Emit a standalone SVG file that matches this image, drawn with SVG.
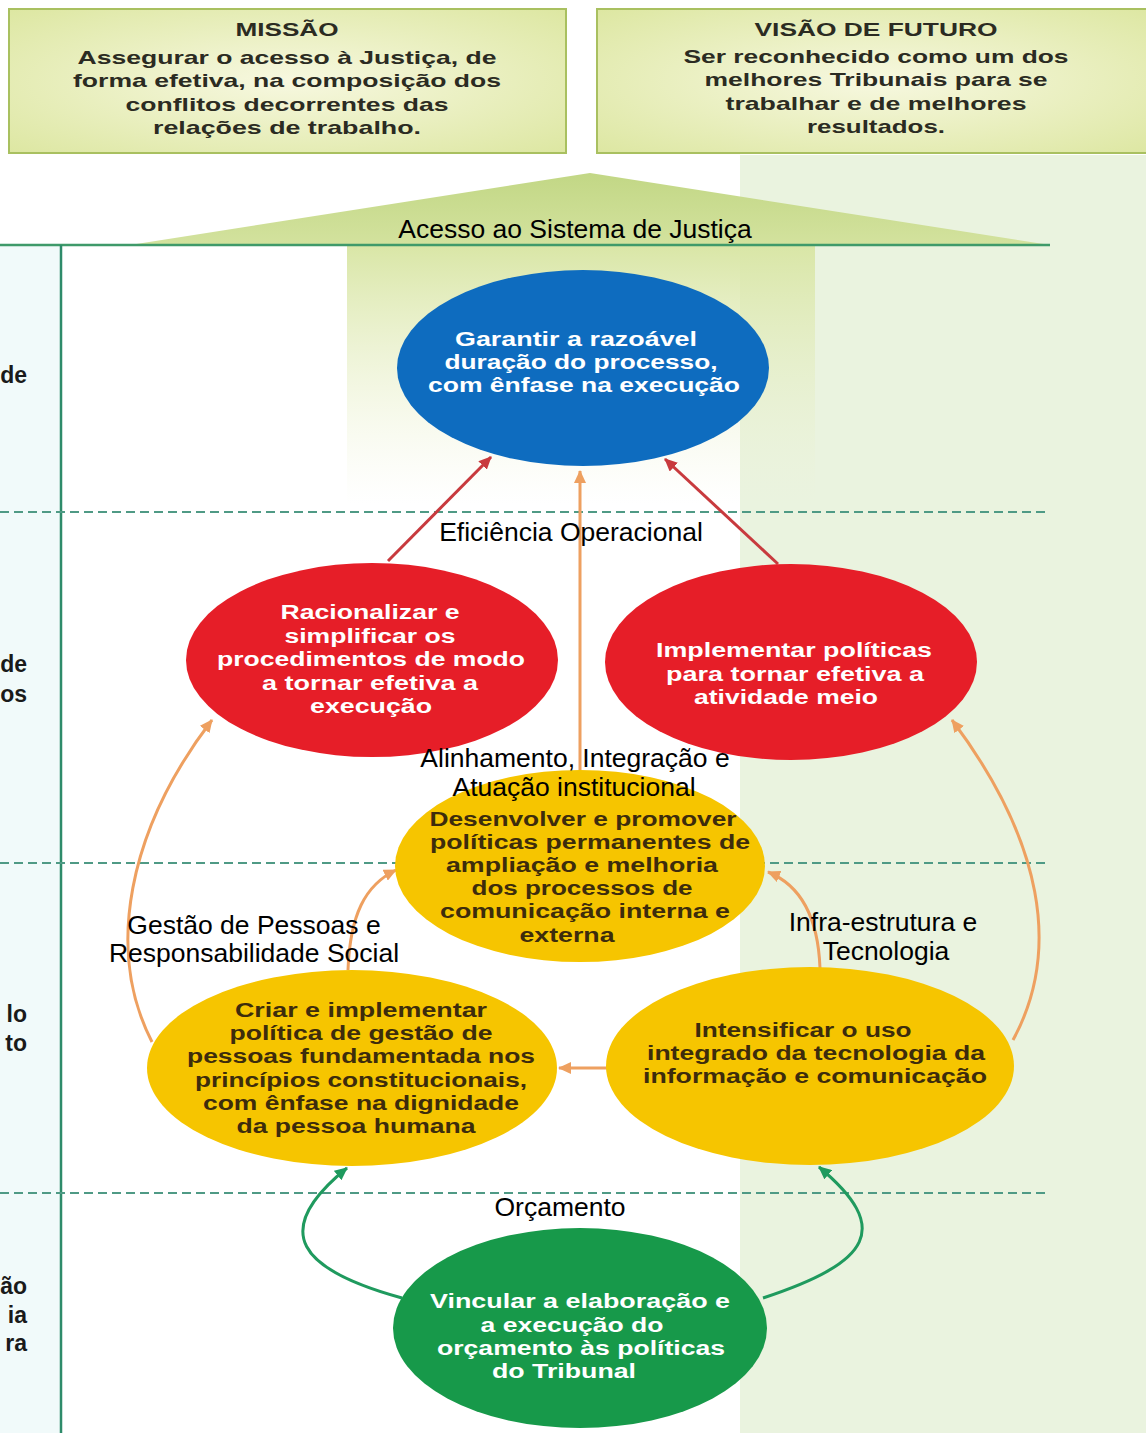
<svg xmlns="http://www.w3.org/2000/svg" width="1146" height="1433" viewBox="0 0 1146 1433">
<defs>
<style>
.bt{font-family:"Liberation Sans",Arial,sans-serif;font-weight:bold;font-size:19px;fill:#2b2b22;text-anchor:middle}
.wt{font-family:"Liberation Sans",Arial,sans-serif;font-weight:bold;font-size:20px;fill:#ffffff;text-anchor:middle}
.dt{font-family:"Liberation Sans",Arial,sans-serif;font-weight:bold;font-size:20px;fill:#3d2c0c;text-anchor:middle}
.lbl{font-family:"Liberation Sans",Arial,sans-serif;font-size:26.5px;fill:#000000;text-anchor:middle}
.side{font-family:"Liberation Sans",Arial,sans-serif;font-weight:bold;font-size:23px;fill:#1a1a1a;text-anchor:end}
.dash{stroke:#4f9a85;stroke-width:1.8;stroke-dasharray:9 5;fill:none}
.red{stroke:#c83a3e;stroke-width:3;fill:none}
.org{stroke:#eea060;stroke-width:3;fill:none}
.grn{stroke:#1f9a5e;stroke-width:3;fill:none}
.box{stroke:#a9c060;stroke-width:2}
</style>
<radialGradient id="boxg" cx="0.5" cy="0.5" r="0.7">
<stop offset="0" stop-color="#f7f8e0"/>
<stop offset="1" stop-color="#dde7a2"/>
</radialGradient>
<linearGradient id="colg" x1="0" y1="0" x2="0" y2="1">
<stop offset="0" stop-color="#d9e6a6" stop-opacity="1"/>
<stop offset="1" stop-color="#eef3d6" stop-opacity="0"/>
</linearGradient>
<linearGradient id="roofg" x1="0" y1="0" x2="0" y2="1">
<stop offset="0" stop-color="#c2d785"/>
<stop offset="1" stop-color="#d3e29e"/>
</linearGradient>
<marker id="ar" markerUnits="userSpaceOnUse" markerWidth="14" markerHeight="12" refX="12" refY="6" orient="auto"><path d="M0,0 L13,6 L0,12 z" fill="#c83a3e"/></marker>
<marker id="ao" markerUnits="userSpaceOnUse" markerWidth="14" markerHeight="12" refX="12" refY="6" orient="auto"><path d="M0,0 L13,6 L0,12 z" fill="#eea060"/></marker>
<marker id="ag" markerUnits="userSpaceOnUse" markerWidth="14" markerHeight="12" refX="12" refY="6" orient="auto"><path d="M0,0 L13,6 L0,12 z" fill="#1f9a5e"/></marker>
</defs>

<!-- background -->
<rect x="0" y="0" width="1146" height="1433" fill="#ffffff"/>
<rect x="0" y="245" width="60" height="1188" fill="#f1fafa"/>
<rect x="740" y="155" width="406" height="1278" fill="#eaf3df"/>
<rect x="347" y="245" width="468" height="260" fill="url(#colg)"/>

<!-- roof -->
<polygon points="590,173 130,245 1050,245" fill="url(#roofg)"/>
<line x1="0" y1="245" x2="1050" y2="245" stroke="#3f9a6a" stroke-width="2.5"/>
<line x1="61" y1="245" x2="61" y2="1433" stroke="#2e8b6a" stroke-width="2.5"/>

<!-- dashed separators -->
<line class="dash" x1="0" y1="512" x2="1045" y2="512"/>
<line class="dash" x1="0" y1="863" x2="1045" y2="863"/>
<line class="dash" x1="0" y1="1193" x2="1045" y2="1193"/>

<!-- header boxes -->
<g id="missao">
<rect class="box" x="9" y="9" width="557" height="144" fill="url(#boxg)"/>
<text class="bt" x="287" y="36" textLength="103" lengthAdjust="spacingAndGlyphs">MISSÃO</text>
<text class="bt" x="287" y="64" textLength="419" lengthAdjust="spacingAndGlyphs">Assegurar o acesso à Justiça, de</text>
<text class="bt" x="287" y="87" textLength="428" lengthAdjust="spacingAndGlyphs">forma efetiva, na composição dos</text>
<text class="bt" x="287" y="111" textLength="323" lengthAdjust="spacingAndGlyphs">conflitos decorrentes das</text>
<text class="bt" x="287" y="134" textLength="268" lengthAdjust="spacingAndGlyphs">relações de trabalho.</text>
</g>
<g id="visao">
<rect class="box" x="597" y="9" width="560" height="144" fill="url(#boxg)"/>
<text class="bt" x="876" y="36" textLength="243" lengthAdjust="spacingAndGlyphs">VISÃO DE FUTURO</text>
<text class="bt" x="876" y="63" textLength="385" lengthAdjust="spacingAndGlyphs">Ser reconhecido como um dos</text>
<text class="bt" x="876" y="86" textLength="343" lengthAdjust="spacingAndGlyphs">melhores Tribunais para se</text>
<text class="bt" x="876" y="110" textLength="301" lengthAdjust="spacingAndGlyphs">trabalhar e de melhores</text>
<text class="bt" x="876" y="133" textLength="138" lengthAdjust="spacingAndGlyphs">resultados.</text>
</g>

<!-- left cut-off labels -->
<g id="side-labels">
<text class="side" x="27" y="383">de</text>
<text class="side" x="27" y="672">de</text>
<text class="side" x="27" y="702">os</text>
<text class="side" x="27" y="1022">lo</text>
<text class="side" x="27" y="1051">to</text>
<text class="side" x="27" y="1294">ão</text>
<text class="side" x="27" y="1323">ia</text>
<text class="side" x="27" y="1351">ra</text>
</g>

<!-- connectors -->
<g id="connectors">
<line class="red" x1="388" y1="561" x2="491" y2="457" marker-end="url(#ar)"/>
<line class="red" x1="778" y1="564" x2="665" y2="459" marker-end="url(#ar)"/>
<line class="org" x1="580" y1="800" x2="580" y2="471" marker-end="url(#ao)"/>
<path class="org" d="M152,1042 C105,950 128,830 212,720" marker-end="url(#ao)"/>
<path class="org" d="M1013,1040 C1062,950 1042,840 952,720" marker-end="url(#ao)"/>
<path class="org" d="M348,970 C350,915 365,885 396,870" marker-end="url(#ao)"/>
<path class="org" d="M820,968 C818,915 800,885 768,872" marker-end="url(#ao)"/>
<line class="org" x1="610" y1="1068" x2="559" y2="1068" marker-end="url(#ao)"/>
<path class="grn" d="M402,1298 C300,1270 268,1232 347,1168" marker-end="url(#ag)"/>
<path class="grn" d="M763,1298 C872,1262 892,1228 819,1167" marker-end="url(#ag)"/>
</g>

<!-- nodes -->
<g id="garantir">
<ellipse cx="583" cy="368" rx="186" ry="98" fill="#0e6cbf"/>
<text class="wt" x="576" y="346" textLength="242" lengthAdjust="spacingAndGlyphs">Garantir a razoável</text>
<text class="wt" x="581" y="369" textLength="273" lengthAdjust="spacingAndGlyphs">duração do processo,</text>
<text class="wt" x="584" y="392" textLength="312" lengthAdjust="spacingAndGlyphs">com ênfase na execução</text>
</g>
<g id="racionalizar">
<ellipse cx="372" cy="660" rx="186" ry="97" fill="#e61e28"/>
<text class="wt" x="370" y="619" textLength="179" lengthAdjust="spacingAndGlyphs">Racionalizar e</text>
<text class="wt" x="370" y="643" textLength="171" lengthAdjust="spacingAndGlyphs">simplificar os</text>
<text class="wt" x="371" y="666" textLength="308" lengthAdjust="spacingAndGlyphs">procedimentos de modo</text>
<text class="wt" x="370" y="690" textLength="216" lengthAdjust="spacingAndGlyphs">a tornar efetiva a</text>
<text class="wt" x="371" y="713" textLength="122" lengthAdjust="spacingAndGlyphs">execução</text>
</g>
<g id="implementar">
<ellipse cx="791" cy="662" rx="186" ry="98" fill="#e61e28"/>
<text class="wt" x="794" y="657" textLength="276" lengthAdjust="spacingAndGlyphs">Implementar políticas</text>
<text class="wt" x="795" y="681" textLength="258" lengthAdjust="spacingAndGlyphs">para tornar efetiva a</text>
<text class="wt" x="786" y="704" textLength="184" lengthAdjust="spacingAndGlyphs">atividade meio</text>
</g>
<g id="desenvolver">
<ellipse cx="580" cy="866" rx="185" ry="96" fill="#f6c500"/>
<text class="dt" x="583" y="826" textLength="307" lengthAdjust="spacingAndGlyphs">Desenvolver e promover</text>
<text class="dt" x="590" y="849" textLength="320" lengthAdjust="spacingAndGlyphs">políticas permanentes de</text>
<text class="dt" x="582" y="872" textLength="272" lengthAdjust="spacingAndGlyphs">ampliação e melhoria</text>
<text class="dt" x="582" y="895" textLength="221" lengthAdjust="spacingAndGlyphs">dos processos de</text>
<text class="dt" x="585" y="918" textLength="290" lengthAdjust="spacingAndGlyphs">comunicação interna e</text>
<text class="dt" x="567" y="942" textLength="95" lengthAdjust="spacingAndGlyphs">externa</text>
</g>
<g id="criar">
<ellipse cx="352" cy="1068" rx="205" ry="98" fill="#f6c500"/>
<text class="dt" x="361" y="1017" textLength="252" lengthAdjust="spacingAndGlyphs">Criar e implementar</text>
<text class="dt" x="361" y="1040" textLength="263" lengthAdjust="spacingAndGlyphs">política de gestão de</text>
<text class="dt" x="361" y="1063" textLength="348" lengthAdjust="spacingAndGlyphs">pessoas fundamentada nos</text>
<text class="dt" x="361" y="1087" textLength="332" lengthAdjust="spacingAndGlyphs">princípios constitucionais,</text>
<text class="dt" x="361" y="1110" textLength="316" lengthAdjust="spacingAndGlyphs">com ênfase na dignidade</text>
<text class="dt" x="356" y="1133" textLength="239" lengthAdjust="spacingAndGlyphs">da pessoa humana</text>
</g>
<g id="intensificar">
<ellipse cx="810" cy="1066" rx="204" ry="99" fill="#f6c500"/>
<text class="dt" x="803" y="1037" textLength="217" lengthAdjust="spacingAndGlyphs">Intensificar o uso</text>
<text class="dt" x="816" y="1060" textLength="338" lengthAdjust="spacingAndGlyphs">integrado da tecnologia da</text>
<text class="dt" x="815" y="1083" textLength="344" lengthAdjust="spacingAndGlyphs">informação e comunicação</text>
</g>
<g id="vincular">
<ellipse cx="580" cy="1328" rx="187" ry="100" fill="#17994a"/>
<text class="wt" x="580" y="1308" textLength="300" lengthAdjust="spacingAndGlyphs">Vincular a elaboração e</text>
<text class="wt" x="572" y="1332" textLength="183" lengthAdjust="spacingAndGlyphs">a execução do</text>
<text class="wt" x="581" y="1355" textLength="288" lengthAdjust="spacingAndGlyphs">orçamento às políticas</text>
<text class="wt" x="564" y="1378" textLength="144" lengthAdjust="spacingAndGlyphs">do Tribunal</text>
</g>

<!-- perspective labels -->
<g id="labels">
<text class="lbl" x="575" y="238">Acesso ao Sistema de Justiça</text>
<text class="lbl" x="571" y="541">Eficiência Operacional</text>
<text class="lbl" x="575" y="767">Alinhamento, Integração e</text>
<text class="lbl" x="574" y="796">Atuação institucional</text>
<text class="lbl" x="254" y="934">Gestão de Pessoas e</text>
<text class="lbl" x="254" y="962">Responsabilidade Social</text>
<text class="lbl" x="883" y="931">Infra-estrutura e</text>
<text class="lbl" x="886" y="960">Tecnologia</text>
<text class="lbl" x="560" y="1216">Orçamento</text>
</g>
</svg>
